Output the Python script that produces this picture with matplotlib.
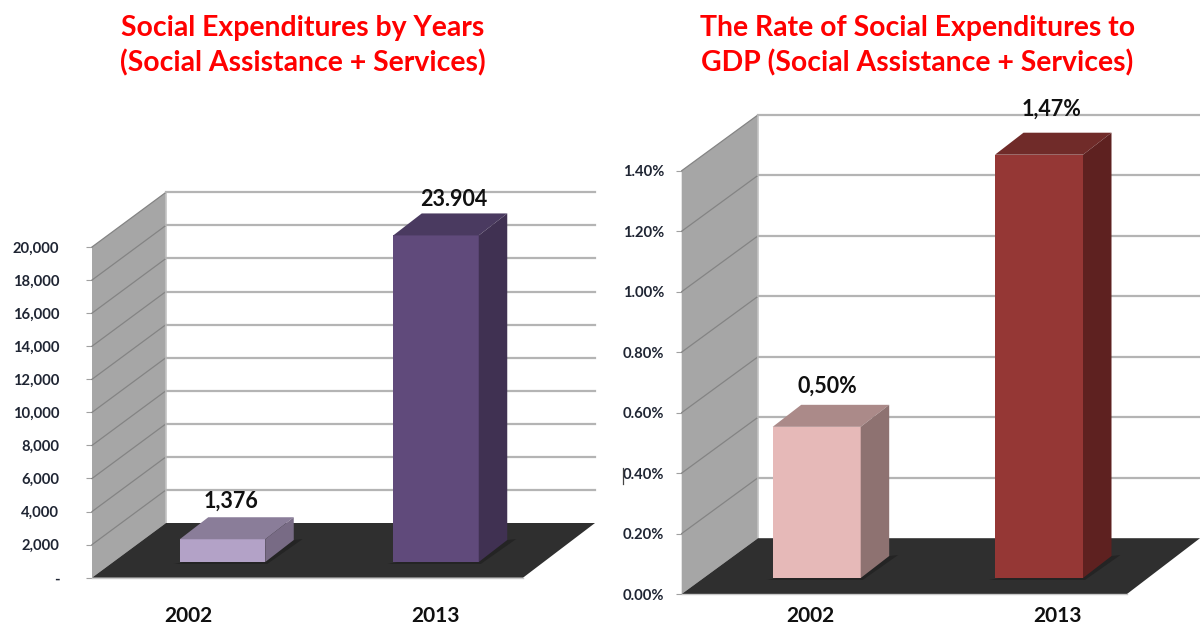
import matplotlib
matplotlib.use('Agg')
import matplotlib.pyplot as plt
from matplotlib.patches import Polygon

plt.rcParams['font.family'] = ['Lato', 'DejaVu Sans']
plt.rcParams['font.weight'] = 'bold'

#- data
years = ['2002', '2013']

expenditures = [1376, 23904]
expenditures_labels = ['1,376', '23.904']
expenditures_top = 19750   # bars stop at the top of the wall
expenditures_ticks = [0, 2000, 4000, 6000, 8000, 10000, 12000, 14000, 16000, 18000, 20000]
expenditures_ticklabels = ['-', '2,000', '4,000', '6,000', '8,000', '10,000',
                           '12,000', '14,000', '16,000', '18,000', '20,000']

rate = [0.50, 1.47]
rate_labels = ['0,50%', '1,47%']
rate_top = 1.40
rate_ticks = [0, 0.2, 0.4, 0.6, 0.8, 1.0, 1.2, 1.4]
rate_ticklabels = ['0.00%', '0.20%', '0.40%', '0.60%', '0.80%', '1.00%', '1.20%', '1.40%']

W, H = 1200, 626
WALL = '#a6a6a6'
FLOOR = '#2f2f2f'
GRID = '#b4b4b4'
TICK_TEXT = '#1f2533'
fig = plt.figure(figsize=(W / 100, H / 100), dpi=100, facecolor='white')


def panel(values, labels, top, ticks, ticklabels, x_front, x_floor_end, y_zero, y_tick_max,
          centers, bar_px, wall_off, bar_off, base_px, grid_end, tick_pad,
          colors, label_off, year_px, year_y):
    scale = (y_zero - y_tick_max) / ticks[-1]       # px per unit
    spacing = centers[1] - centers[0]               # px per category
    ax = fig.add_axes([x_front / W, 1 - y_zero / H,
                       (x_floor_end - x_front) / W, (y_zero - y_tick_max) / H])
    ax.set_xlim((x_front - centers[0]) / spacing, (x_floor_end - centers[0]) / spacing)
    ax.set_ylim(0, ticks[-1])
    ax.patch.set_visible(False)
    for s in ax.spines.values():
        s.set_visible(False)

    x0, x1 = ax.get_xlim()
    wx = wall_off[0] / spacing
    wy = wall_off[1] / scale
    xe = x0 + (grid_end - x_front) / spacing

    #- side wall and floor
    ax.add_patch(Polygon([(x0, 0), (x0 + wx, wy), (x0 + wx, ticks[-1] + wy), (x0, ticks[-1])],
                         fc=WALL, ec='none', zorder=1, clip_on=False))
    ax.plot([x0 + wx, x0 + wx], [wy, ticks[-1] + wy], c='#c4c4c4', lw=1.2, zorder=1.5, clip_on=False)
    ax.add_patch(Polygon([(x0, 0), (x0 + wx, wy), (xe, wy), (x1, 0)],
                         fc=FLOOR, ec='none', zorder=3, clip_on=False))
    ax.plot([x0, x1], [0, 0], c='#c8c8c8', lw=1.0, zorder=3.1, clip_on=False)

    #- gridlines, slanted over the wall and flat along the back
    for t in ticks[1:]:
        ax.plot([x0, x0 + wx], [t, t + wy], c='#848484', lw=0.9, zorder=2, clip_on=False)
        ax.plot([x0 + wx, xe], [t + wy, t + wy], c=GRID, lw=1.6, zorder=2, clip_on=False)

    #- bars
    base = base_px / scale
    w = bar_px / spacing
    dx = bar_off[0] / spacing
    dy = bar_off[1] / scale
    for i, v in enumerate(values):
        h = min(v, top)
        l, r = i - w / 2, i + w / 2
        front, roof, side = colors[i]
        # soft shadow under the front and the side
        ax.add_patch(Polygon([(l - 6 / spacing, base - 2 / scale), (r + 2 / spacing, base - 2 / scale),
                              (r + dx + 9 / spacing, base + dy + 1 / scale), (r + dx, base + dy)],
                             fc='#242424', ec='none', zorder=3.5))
        bar = ax.bar(i, h, bottom=base, width=w, color=front, zorder=4)
        bar[0].set_clip_on(False)
        ax.add_patch(Polygon([(l, base + h), (r, base + h), (r + dx, base + h + dy), (l + dx, base + h + dy)],
                             fc=roof, ec='none', zorder=4, clip_on=False))
        ax.add_patch(Polygon([(r, base), (r + dx, base + dy), (r + dx, base + h + dy), (r, base + h)],
                             fc=side, ec='none', zorder=4, clip_on=False))
        ax.annotate(labels[i], (i, base + h + dy), xytext=(label_off[i][0] * 0.72, label_off[i][1] * 0.72),
                    textcoords='offset points', ha='center', va='center', fontsize=15.5,
                    color='#101010', zorder=6, annotation_clip=False)
        fig.text(year_px[i] / W, 1 - year_y / H, years[i], ha='center', va='center',
                 fontsize=15, color='#101010')

    ax.set_xticks([])
    ax.set_yticks(ticks)
    ax.set_yticklabels(ticklabels, fontsize=10.6, color=TICK_TEXT)
    ax.tick_params(axis='y', length=4.5, width=0.8, color='#a0a0a0', pad=tick_pad)
    return ax


panel(expenditures, expenditures_labels, expenditures_top, expenditures_ticks, expenditures_ticklabels,
      x_front=92, x_floor_end=523, y_zero=577.7, y_tick_max=247,
      centers=[222.5, 436], bar_px=85.5, wall_off=(74, 54.7), bar_off=(28.5, 22), base_px=15.7,
      grid_end=595, tick_pad=19,
      colors=[('#b3a2c7', '#8a7d99', '#786b85'), ('#604a7b', '#4a3a60', '#403152')],
      label_off=[(8.5, 16), (18, 14)], year_px=[188, 435], year_y=616)

panel(rate, rate_labels, rate_top, rate_ticks, rate_ticklabels,
      x_front=681.7, x_floor_end=1127, y_zero=594, y_tick_max=170.7,
      centers=[816.7, 1039], bar_px=88, wall_off=(76.3, 55.8), bar_off=(28.5, 22), base_px=16,
      grid_end=1200, tick_pad=8,
      colors=[('#e6b9b8', '#ab8a89', '#8e7271'), ('#953735', '#702b29', '#5e2120')],
      label_off=[(11, 19), (13, 23)], year_px=[810, 1057], year_y=616)

#- stray mark in front of the 0.40% label
fig.add_artist(plt.Line2D([623 / W, 623 / W], [1 - 468 / H, 1 - 484 / H], c='#444444', lw=0.9))

#- titles
fig.text(302.5 / W, 1 - 46 / H, 'Social Expenditures by Years\n(Social Assistance + Services)',
         ha='center', va='center', color='#ff0000', fontsize=20.4, linespacing=1.36)
fig.text(917.5 / W, 1 - 46 / H, 'The Rate of Social Expenditures to\nGDP (Social Assistance + Services)',
         ha='center', va='center', color='#ff0000', fontsize=20.4, linespacing=1.36)

fig.savefig('out.png', dpi=100, facecolor='white')
plt.close()
